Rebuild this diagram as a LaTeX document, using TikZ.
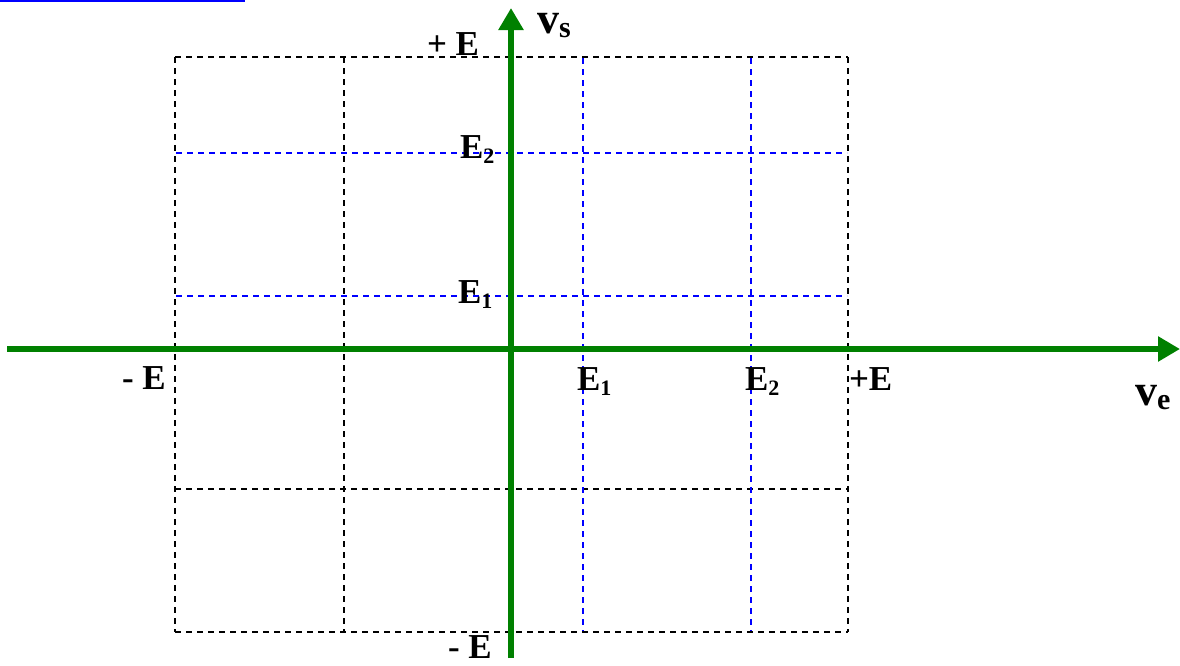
\documentclass[tikz,border=0pt]{standalone}
\usepackage{fontspec}
\setmainfont{Liberation Serif}
\usetikzlibrary{arrows.meta}
\definecolor{axgreen}{RGB}{0,128,0}
\definecolor{gridblue}{RGB}{0,0,255}
\newcommand{\lblE}{\fontsize{35}{40}\selectfont\bfseries}
\newcommand{\subE}[1]{\raisebox{-5pt}{\fontsize{22}{24}\selectfont\bfseries #1}}
\newcommand{\lblV}{\fontsize{44}{48}\selectfont\bfseries}
\newcommand{\subV}[1]{\raisebox{-4pt}{\fontsize{30}{32}\selectfont\bfseries #1}}
\begin{document}
\begin{tikzpicture}[x=1pt,y=-1pt,
  blackgrid/.style={draw=black,line width=1.6pt,dash pattern=on 6pt off 5pt},
  bluegrid/.style={draw=gridblue,line width=1.6pt,dash pattern=on 6pt off 5pt},
  axis/.style={draw=axgreen,line width=6.5pt,-{Triangle[length=22pt,width=24pt,fill=axgreen]}},
  lbl/.style={inner sep=0pt,outer sep=0pt,anchor=base west,font=\lblE}]
\useasboundingbox (0,0) rectangle (1180,665);
% blue fragment at top
\draw[gridblue,line width=3pt] (0,0.5) -- (245,0.5);
% grid: black
\draw[blackgrid] (175,57) -- (175,632);
\draw[blackgrid] (344,57) -- (344,632);
\draw[blackgrid] (848,57) -- (848,632);
\draw[blackgrid] (175,57) -- (848,57);
\draw[blackgrid] (175,489) -- (848,489);
\draw[blackgrid] (175,632) -- (848,632);
% grid: blue
\draw[bluegrid] (583,58) -- (583,631);
\draw[bluegrid] (751,58) -- (751,631);
\draw[bluegrid] (176,153) -- (847,153);
\draw[bluegrid] (176,296) -- (847,296);
% axes
\coordinate (xs) at (7,349);
\coordinate (xe) at (1180,349);
\coordinate (ys) at (511,658);
\coordinate (ye) at (511,8);
\draw[axis] (xs) -- (xe);
\draw[axis] (ys) -- (ye);
% labels
\node[lbl] (pE) at (427,55) {+ E};
\node[lbl,font=\lblV] (vs) at (537,33) {v\subV{s}};
\node[lbl] (E2y) at (460,158) {E\subE{2}};
\node[lbl] (E1y) at (458,303) {E\subE{1}};
\node[lbl] (mEx) at (122,389) {- E};
\node[lbl] (E1x) at (577,390) {E\subE{1}};
\node[lbl] (E2x) at (745,390) {E\subE{2}};
\node[lbl] (pEx) at (849,390) {+E};
\node[lbl,font=\lblV] (ve) at (1135,405) {v\subV{e}};
\node[lbl] (mEy) at (448,658) {- E};
\end{tikzpicture}
\end{document}
